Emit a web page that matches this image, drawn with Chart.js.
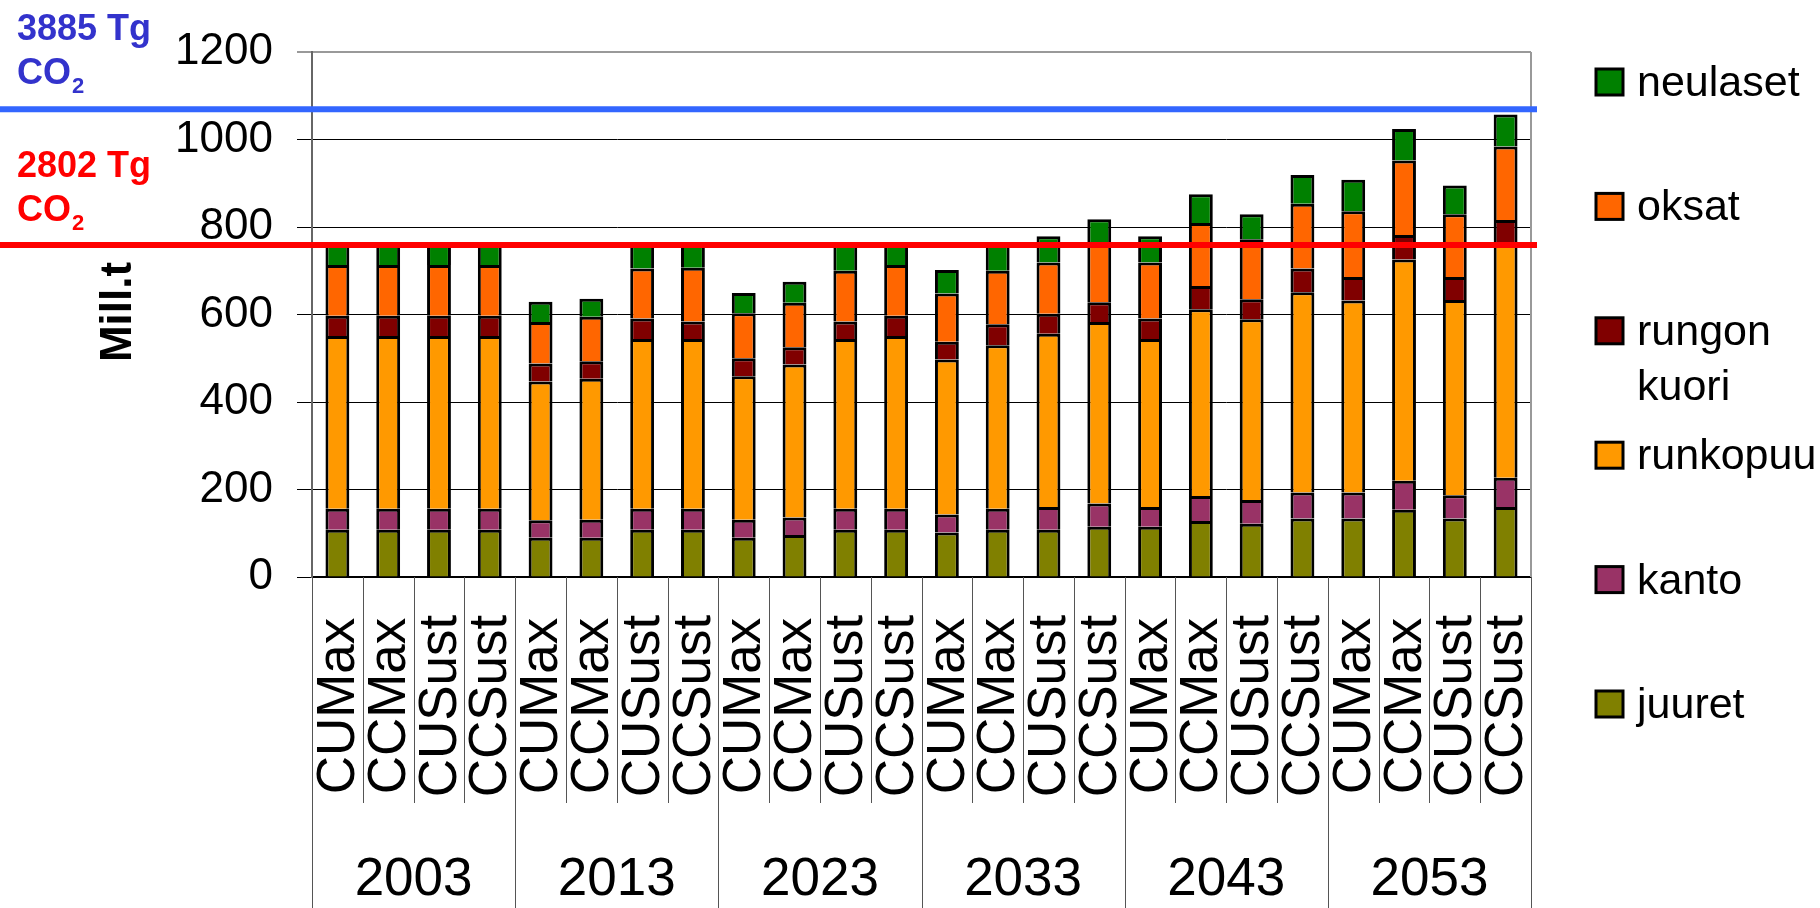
<!DOCTYPE html>
<html>
<head>
<meta charset="utf-8">
<script src="https://cdn.jsdelivr.net/npm/chart.js@4"></script>
<style>
  html, body { margin: 0; padding: 0; background: #fff; }
  canvas { display: block; }
</style>
</head>
<body>
<canvas id="myChart" width="1820" height="908"></canvas>
<script>
const years = ["2003", "2013", "2023", "2033", "2043", "2053"];
const scenarios = ["CUMax", "CCMax", "CUSust", "CCSust"];

// Mill.t, one value per bar (6 years x 4 scenarios)
const juuret = [108, 108, 108, 108, 90, 90, 108, 108, 90, 96, 108, 108, 102, 108, 108, 115, 115, 128, 122, 134, 134, 154, 134, 160];
const kanto = [48, 48, 48, 48, 40, 41, 48, 48, 41, 40, 48, 48, 41, 48, 52, 53, 45, 57, 54, 59, 59, 66, 53, 67];
const runkopuu = [395, 395, 395, 395, 317, 322, 388, 388, 328, 350, 388, 395, 354, 374, 396, 415, 384, 427, 413, 458, 439, 506, 446, 535];
const rungonKuori = [46, 46, 46, 46, 41, 40, 47, 40, 41, 39, 40, 46, 41, 48, 46, 45, 47, 53, 46, 54, 54, 56, 53, 54];
const oksat = [116, 116, 116, 116, 95, 102, 114, 123, 103, 102, 116, 116, 110, 122, 117, 132, 128, 144, 137, 148, 150, 170, 143, 168];
const neulaset = [53, 53, 53, 53, 46, 41, 57, 55, 46, 48, 62, 53, 54, 66, 60, 58, 60, 66, 57, 66, 72, 72, 66, 73];

const yMax = 1200;
const yStep = 200;

// reference lines (Mill.t) and their labels
const blueLineValue = 1069;
const redLineValue = 759;
const blueLabel = ["3885 Tg", "CO", "2"];
const redLabel = ["2802 Tg", "CO", "2"];

const labels = years.flatMap(() => scenarios);
const FONT = "'Liberation Sans', Arial, sans-serif";

function ds(label, data, color) {
  return {
    label: label,
    data: data,
    backgroundColor: color,
    borderColor: "#000",
    borderWidth: 3,
    barPercentage: 0.47,
    categoryPercentage: 1,
  };
}

const datasets = [
  ds("juuret", juuret, "#808000"),
  ds("kanto", kanto, "#993366"),
  ds("runkopuu", runkopuu, "#FF9900"),
  ds("rungon kuori", rungonKuori, "#800000"),
  ds("oksat", oksat, "#FF6600"),
  ds("neulaset", neulaset, "#008000"),
];

const decorations = {
  id: "decorations",
  afterDraw(chart) {
    const { ctx, chartArea: a, scales } = chart;
    const x = scales.x;
    const y = scales.y;
    const step = (a.right - a.left) / labels.length;
    ctx.save();

    // grey frame on the right
    ctx.strokeStyle = "#999";
    ctx.lineWidth = 2;
    ctx.beginPath();
    ctx.moveTo(a.right, a.top);
    ctx.lineTo(a.right, a.bottom);
    ctx.stroke();

    // horizontal reference lines
    function refLine(value, color) {
      const py = y.getPixelForValue(value);
      ctx.strokeStyle = color;
      ctx.lineWidth = 6;
      ctx.beginPath();
      ctx.moveTo(0, py);
      ctx.lineTo(a.right + 6, py);
      ctx.stroke();
    }
    refLine(blueLineValue, "#3366FF");
    refLine(redLineValue, "#FF0000");

    function refLabel(lines, color, base) {
      ctx.fillStyle = color;
      ctx.textAlign = "left";
      ctx.textBaseline = "alphabetic";
      ctx.font = "bold 36px " + FONT;
      ctx.fillText(lines[0], 17, base);
      ctx.fillText(lines[1], 17, base + 44);
      const w = ctx.measureText(lines[1]).width;
      ctx.font = "bold 22px " + FONT;
      ctx.fillText(lines[2], 17 + w + 1, base + 53);
    }
    refLabel(blueLabel, "#3333CC", 40);
    refLabel(redLabel, "#FF0000", 177);

    // category separators below the axis
    ctx.strokeStyle = "#555";
    ctx.lineWidth = 1;
    for (let k = 0; k <= labels.length; k++) {
      const px = Math.round(a.left + k * step) + 0.5;
      ctx.beginPath();
      ctx.moveTo(px, a.bottom);
      ctx.lineTo(px, k % scenarios.length === 0 ? chart.height : 803);
      ctx.stroke();
    }

    // rotated scenario labels
    ctx.fillStyle = "#000";
    ctx.font = "53px " + FONT;
    ctx.textAlign = "center";
    ctx.textBaseline = "middle";
    labels.forEach((lab, i) => {
      ctx.save();
      ctx.translate(x.getPixelForValue(i), 706);
      ctx.rotate(-Math.PI / 2);
      ctx.fillText(lab, 0, 2);
      ctx.restore();
    });

    // year labels
    ctx.textBaseline = "alphabetic";
    years.forEach((yr, g) => {
      const cx = (x.getPixelForValue(g * 4) + x.getPixelForValue(g * 4 + 3)) / 2;
      ctx.fillText(yr, cx, 895);
    });

    // y axis title
    ctx.save();
    ctx.font = "bold 44px " + FONT;
    ctx.translate(119, 312);
    ctx.rotate(-Math.PI / 2);
    ctx.textBaseline = "middle";
    ctx.fillText("Mill.t", 0, 0);
    ctx.restore();

    // legend, top item = top of the stack
    ctx.textAlign = "left";
    ctx.textBaseline = "alphabetic";
    ctx.font = "43px " + FONT;
    const items = chart.data.datasets.slice().reverse();
    items.forEach((d, i) => {
      const top = 69 + i * 124.4;
      ctx.fillStyle = d.backgroundColor;
      ctx.fillRect(1596, top, 27, 26);
      ctx.strokeStyle = "#000";
      ctx.lineWidth = 3;
      ctx.strokeRect(1596, top, 27, 26);
      ctx.fillStyle = "#000";
      d.label.split(" ").forEach((word, j) => {
        ctx.fillText(word, 1637, top + 27 + j * 55);
      });
    });

    ctx.restore();
  },
};

const ctx = document.getElementById("myChart").getContext("2d");
const myChart = new Chart(ctx, {
  type: "bar",
  data: {
    labels: labels,
    datasets: datasets,
  },
  options: {
    responsive: false,
    animation: false,
    devicePixelRatio: 1,
    layout: {
      padding: { top: 52, right: 289, left: 0, bottom: 0 },
    },
    plugins: {
      legend: { display: false },
      tooltip: { enabled: false },
    },
    scales: {
      x: {
        stacked: true,
        ticks: { display: false },
        grid: { display: false },
        border: { color: "#000", width: 2 },
        afterFit(scale) {
          scale.height = 331;
        },
      },
      y: {
        stacked: true,
        min: 0,
        max: yMax,
        ticks: {
          stepSize: yStep,
          padding: 24,
          color: "#000",
          font: { family: FONT, size: 44 },
          callback: (v) => String(v),
        },
        grid: {
          color: (c) => (c.tick && c.tick.value === yMax ? "#999" : "#000"),
          lineWidth: (c) => (c.tick && c.tick.value === yMax ? 2 : 1),
          tickLength: 15,
        },
        border: { color: "#666", width: 2 },
        afterFit(scale) {
          scale.width = 312;
        },
      },
    },
  },
  plugins: [decorations],
});
</script>
</body>
</html>
